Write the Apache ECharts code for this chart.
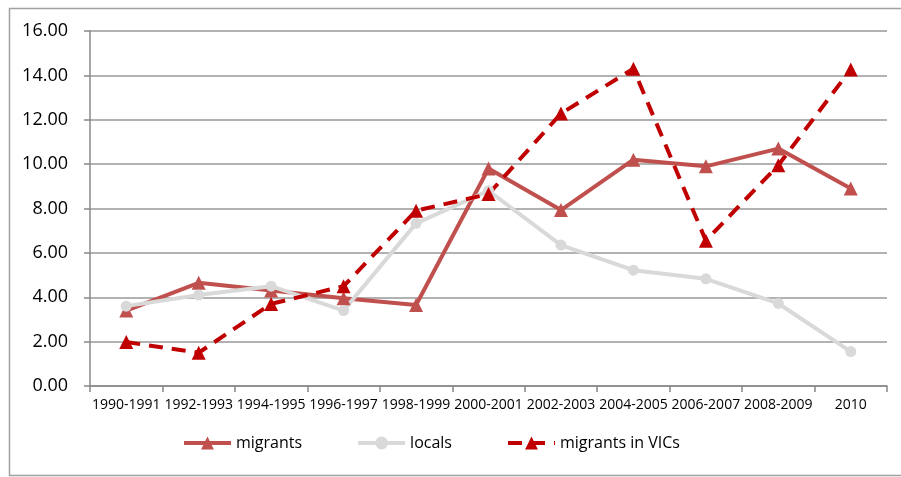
<!DOCTYPE html>
<html>
<head>
<meta charset="utf-8">
<script src="https://cdn.jsdelivr.net/npm/echarts@6/dist/echarts.min.js"></script>
<style>
  html, body { margin: 0; padding: 0; background: #fff; }
  #chart { width: 901px; height: 477px; }
</style>
</head>
<body>
<div id="chart"></div>
<script>
// categories (x axis)
const periods = ['1990-1991', '1992-1993', '1994-1995', '1996-1997', '1998-1999',
  '2000-2001', '2002-2003', '2004-2005', '2006-2007', '2008-2009', '2010'];

// series values
const migrants = [3.4, 4.65, 4.3, 3.96, 3.65, 9.8, 7.93, 10.2, 9.9, 10.7, 8.9];
const locals = [3.6, 4.1, 4.5, 3.4, 7.33, 8.8, 6.35, 5.22, 4.83, 3.72, 1.55];
const migrantsVIC = [1.98, 1.5, 3.7, 4.5, 7.9, 8.65, 12.28, 14.3, 6.55, 9.95, 14.27];

const seriesNames = ['migrants', 'locals', 'migrants in VICs'];
const colors = ['#C0504D', '#D9D9D9', '#C00000'];

const myChart = echarts.init(document.getElementById('chart'));

const font = '"Open Sans", "Noto Sans", sans-serif';

const options = {
  animation: false,
  backgroundColor: '#fff',
  textStyle: { fontFamily: font },
  // outer frame
  graphic: [{
    type: 'rect',
    shape: { x: 9.5, y: 8.5, width: 900, height: 467 },
    style: { fill: 'none', stroke: '#a0a0a0', lineWidth: 1.5 },
    silent: true
  }],
  legend: {
    data: seriesNames,
    top: 430,
    left: 177,
    itemWidth: 47,
    itemHeight: 16,
    itemGap: 54,
    lineStyle: { width: 4 },
    textStyle: { fontSize: 16, color: '#000', fontFamily: font }
  },
  grid: {
    left: 90,
    right: 14,
    top: 31,
    bottom: 91,
    containLabel: false
  },
  xAxis: {
    type: 'category',
    data: periods,
    boundaryGap: true,
    axisLine: { lineStyle: { color: '#888', width: 1.5 } },
    axisTick: { show: true, length: 6, interval: 0, lineStyle: { color: '#888', width: 1.5 } },
    axisLabel: { interval: 0, color: '#000', fontSize: 14, margin: 12, fontFamily: font }
  },
  yAxis: {
    type: 'value',
    min: 0,
    max: 16,
    interval: 2,
    axisLine: { show: true, lineStyle: { color: '#888', width: 1.5 } },
    axisTick: { show: true, length: 6, lineStyle: { color: '#888', width: 1.5 } },
    splitLine: { lineStyle: { color: '#999', width: 1.5 } },
    axisLabel: {
      color: '#000',
      fontSize: 18,
      margin: 22,
      fontFamily: font,
      formatter: v => v.toFixed(2)
    }
  },
  series: [
    {
      name: 'migrants',
      type: 'line',
      data: migrants,
      symbol: 'triangle',
      symbolSize: 14,
      lineStyle: { color: colors[0], width: 4 },
      itemStyle: { color: colors[0] }
    },
    {
      name: 'locals',
      type: 'line',
      data: locals,
      symbol: 'circle',
      symbolSize: 11,
      lineStyle: { color: colors[1], width: 4 },
      itemStyle: { color: colors[1] }
    },
    {
      name: 'migrants in VICs',
      type: 'line',
      data: migrantsVIC,
      symbol: 'triangle',
      symbolSize: 14,
      lineStyle: { color: colors[2], width: 4, type: [14, 9] },
      itemStyle: { color: colors[2] }
    }
  ]
};

myChart.setOption(options);
</script>
</body>
</html>
